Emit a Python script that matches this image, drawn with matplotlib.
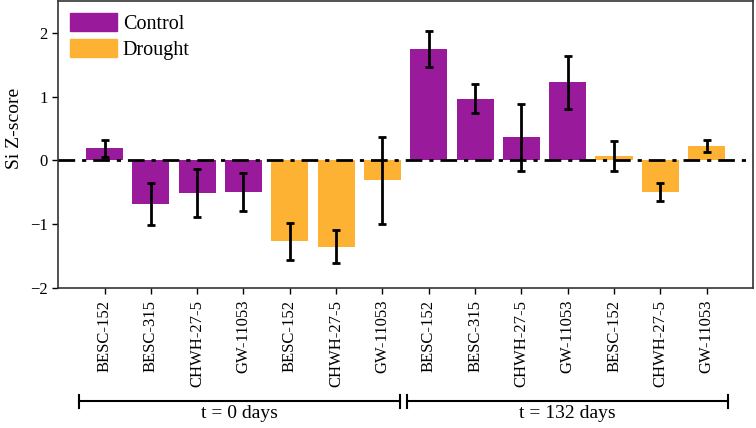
import matplotlib
matplotlib.use("Agg")
import matplotlib.pyplot as plt
from matplotlib.patches import Patch
import matplotlib.transforms as mtransforms

plt.rcParams['font.family'] = ['Liberation Serif', 'DejaVu Serif']
plt.rcParams['mathtext.fontset'] = 'stix'

labels = ["BESC-152", "BESC-315", "CHWH-27-5", "GW-11053", "BESC-152", "CHWH-27-5", "GW-11053",
          "BESC-152", "BESC-315", "CHWH-27-5", "GW-11053", "BESC-152", "CHWH-27-5", "GW-11053"]
values = [0.19, -0.68, -0.515, -0.495, -1.27, -1.35, -0.31,
          1.75, 0.965, 0.36, 1.225, 0.07, -0.50, 0.23]
errors = [0.13, 0.33, 0.375, 0.305, 0.29, 0.255, 0.68,
          0.28, 0.225, 0.53, 0.415, 0.24, 0.14, 0.095]
treatment = ["Control"] * 4 + ["Drought"] * 3 + ["Control"] * 4 + ["Drought"] * 3
groups = ["t = 0 days", "t = 132 days"]

colors = {"Control": "#9a1a9c", "Drought": "#fdb233"}

fig = plt.figure(figsize=(7.56, 4.28), dpi=100)
ax = fig.add_axes([0.077, 0.327, 0.919, 0.671])

x = list(range(len(values)))
ax.bar(x, values, width=0.8, color=[colors[t] for t in treatment], zorder=2)
ax.errorbar(x, values, yerr=errors, fmt='none', ecolor='black', elinewidth=2,
            capsize=3, capthick=2, zorder=4)
ax.axhline(0, color='black', lw=2, ls=(0, (6, 2.5, 1.5, 2.5)), zorder=3)

ax.set_xlim(-1, 14)
ax.set_ylim(-2, 2.5)
ax.set_yticks([-2, -1, 0, 1, 2])
ax.set_yticklabels(["\u22122", "\u22121", "0", "1", "2"])
ax.set_xticks(x)
ax.set_xticklabels(labels, rotation=90)
ax.tick_params(axis='y', labelsize=12, length=4, width=1)
ax.tick_params(axis='x', labelsize=12, length=4, width=1, pad=4.5)
ax.set_ylabel("Si Z-score", fontsize=14)
ax.yaxis.set_label_coords(-0.051, 0.555)
for s in ax.spines.values():
    s.set_linewidth(1.2)
    s.set_color('#333333')

handles = [Patch(color=colors["Control"], label="Control"),
           Patch(color=colors["Drought"], label="Drought")]
ax.legend(handles=handles, loc='upper left', frameon=False, fontsize=14.5,
          handlelength=2.3, handleheight=1.0, handletextpad=0.3,
          borderpad=0.2, borderaxespad=0.4, labelspacing=0.25)

trans = mtransforms.blended_transform_factory(ax.transData, ax.transAxes)
brackets = [(-0.55, 6.37), (6.52, 13.47)]
yb = -0.394
for (x0, x1), g in zip(brackets, groups):
    ax.plot([x0, x1], [yb, yb], color='black', lw=1.5, transform=trans, clip_on=False)
    for xe in (x0, x1):
        ax.plot([xe, xe], [yb - 0.022, yb + 0.022], color='black', lw=1.5,
                transform=trans, clip_on=False)
    ax.text((x0 + x1) / 2, yb - 0.012, g, transform=trans, ha='center', va='top', fontsize=14)

fig.savefig("out.png", dpi=100)
